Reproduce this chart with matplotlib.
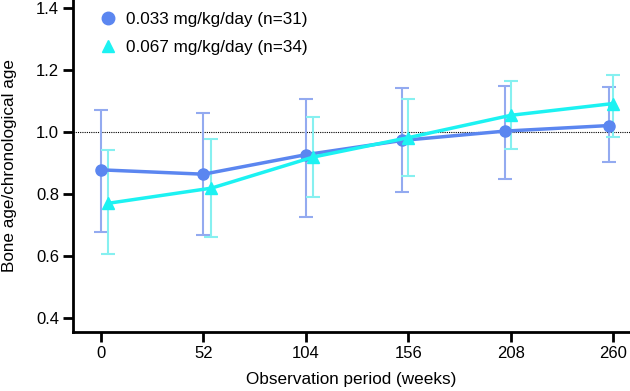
import matplotlib.pyplot as plt

plt.rcParams['font.family'] = ['Liberation Sans', 'DejaVu Sans']

# --- data ---
weeks = [0, 52, 104, 156, 208, 260]
tick_labels = ['0', '52', '104', '156', '208', '260']

# plotted x positions (the two groups are nudged apart)
x_low = [0, 52, 104, 153, 205, 258]
x_high = [3.5, 56, 107.5, 156, 208, 260]

low_mean = [0.879, 0.865, 0.928, 0.974, 1.004, 1.022]
low_top = [1.073, 1.062, 1.106, 1.143, 1.148, 1.145]
low_bot = [0.677, 0.668, 0.728, 0.807, 0.850, 0.905]

high_mean = [0.771, 0.820, 0.920, 0.983, 1.055, 1.093]
high_top = [0.944, 0.980, 1.051, 1.106, 1.165, 1.185]
high_bot = [0.609, 0.661, 0.791, 0.859, 0.945, 0.985]

low_label = '0.033 mg/kg/day (n=31)'
high_label = '0.067 mg/kg/day (n=34)'

blue = '#5B86F0'
blue_err = '#93AAF0'
cyan = '#1CF2F2'
cyan_err = '#86F0F0'

# --- plot ---
fig = plt.figure(figsize=(6.3, 3.91), dpi=100)
ax = fig.add_axes([0.116, 0.151, 0.884, 0.849])

ax.axhline(1.0, color='k', linewidth=0.8, linestyle=(0, (1, 1)), zorder=1)

low_err = [[m - b for m, b in zip(low_mean, low_bot)],
           [t - m for m, t in zip(low_mean, low_top)]]
high_err = [[m - b for m, b in zip(high_mean, high_bot)],
            [t - m for m, t in zip(high_mean, high_top)]]

ax.errorbar(x_low, low_mean, yerr=low_err, fmt='none', ecolor=blue_err,
            elinewidth=1.5, capsize=5, capthick=1.5, zorder=2)
ax.errorbar(x_high, high_mean, yerr=high_err, fmt='none', ecolor=cyan_err,
            elinewidth=1.5, capsize=5, capthick=1.5, zorder=2)

ax.plot(x_low, low_mean, color=blue, linewidth=2.5, marker='o',
        markersize=8, zorder=3, label=low_label)
ax.plot(x_high, high_mean, color=cyan, linewidth=2.5, marker='^',
        markersize=8, zorder=4, label=high_label)

ax.set_xlim(-14.2, 268.5)
ax.set_ylim(0.356, 1.427)
ax.set_xticks(weeks)
ax.set_xticklabels(tick_labels)
ax.set_yticks([0.4, 0.6, 0.8, 1.0, 1.2, 1.4])
ax.set_yticklabels(['0.4', '0.6', '0.8', '1.0', '1.2', '1.4'])

for side in ['top', 'right']:
    ax.spines[side].set_visible(False)
for side in ['left', 'bottom']:
    ax.spines[side].set_linewidth(2)
ax.tick_params(width=2, length=7, labelsize=12, pad=3)

ax.set_xlabel('Observation period (weeks)', fontsize=12.3, labelpad=8)
ax.set_ylabel('Bone age/chronological age', fontsize=12.3, labelpad=14)

# legend markers only, no lines
handles = [plt.Line2D([], [], color=blue, marker='o', linestyle='none', markersize=9),
           plt.Line2D([], [], color=cyan, marker='^', linestyle='none', markersize=9)]
ax.legend(handles, [low_label, high_label], loc='upper left',
          bbox_to_anchor=(0.01, 1.0), frameon=False, fontsize=12.3,
          handletextpad=0.05, labelspacing=0.75, borderaxespad=0.3)

fig.savefig('out.png', dpi=100)
